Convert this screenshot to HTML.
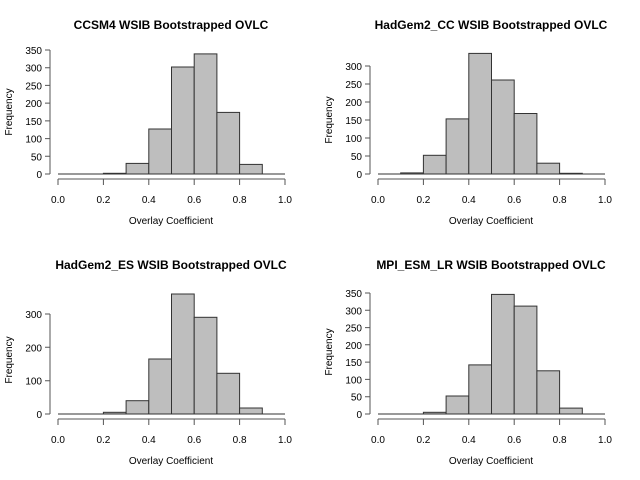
<!DOCTYPE html>
<html><head><style>body{margin:0;background:#fff}svg{display:block}text{font-family:"Liberation Sans",sans-serif;fill:#000}</style></head><body>
<svg width="640" height="480" viewBox="0 0 640 480">
<g id="p1">
<text x="171" y="29" font-size="12" font-weight="bold" text-anchor="middle">CCSM4 WSIB Bootstrapped OVLC</text>
<g fill="#bebebe" stroke="#333" stroke-width="1">
<line x1="58" y1="174" x2="103.4" y2="174"/><line x1="262.3" y1="174" x2="285" y2="174"/>
<rect x="103.4" y="173.3" width="22.7" height="0.7"/>
<rect x="126.1" y="163.4" width="22.7" height="10.6"/>
<rect x="148.8" y="129" width="22.7" height="45"/>
<rect x="171.5" y="67" width="22.7" height="107"/>
<rect x="194.2" y="53.9" width="22.7" height="120.1"/>
<rect x="216.9" y="112.4" width="22.7" height="61.6"/>
<rect x="239.6" y="164.4" width="22.7" height="9.6"/>
</g>
<g stroke="#555" fill="none"><path d="M50 50V174M50 50h-5M50 67.7h-5M50 85.4h-5M50 103.1h-5M50 120.9h-5M50 138.6h-5M50 156.3h-5M50 174h-5"/></g>
<g font-size="10" text-anchor="end"><text x="42" y="54">350</text><text x="42" y="71.7">300</text><text x="42" y="89.4">250</text><text x="42" y="107.1">200</text><text x="42" y="124.9">150</text><text x="42" y="142.6">100</text><text x="42" y="160.3">50</text><text x="42" y="178">0</text></g>
<text transform="translate(12,112) rotate(-90)" font-size="10" text-anchor="middle">Frequency</text>
</g>
<g id="p2" transform="translate(320,0)">
<text x="171" y="29" font-size="12" font-weight="bold" text-anchor="middle">HadGem2_CC WSIB Bootstrapped OVLC</text>
<g fill="#bebebe" stroke="#333">
<line x1="58" y1="174" x2="80.7" y2="174"/><line x1="262.3" y1="174" x2="285" y2="174"/>
<rect x="80.7" y="172.9" width="22.7" height="1.1"/>
<rect x="103.4" y="155.3" width="22.7" height="18.7"/>
<rect x="126.1" y="118.9" width="22.7" height="55.1"/>
<rect x="148.8" y="53.4" width="22.7" height="120.6"/>
<rect x="171.5" y="80" width="22.7" height="94"/>
<rect x="194.2" y="113.5" width="22.7" height="60.5"/>
<rect x="216.9" y="163.2" width="22.7" height="10.8"/>
<rect x="239.6" y="173.3" width="22.7" height="0.7"/>
</g>
<g stroke="#555" fill="none"><path d="M50 66V174M50 66h-5M50 84h-5M50 102h-5M50 120h-5M50 138h-5M50 156h-5M50 174h-5"/></g>
<g font-size="10" text-anchor="end"><text x="42" y="70">300</text><text x="42" y="88">250</text><text x="42" y="106">200</text><text x="42" y="124">150</text><text x="42" y="142">100</text><text x="42" y="160">50</text><text x="42" y="178">0</text></g>
<text transform="translate(12,120) rotate(-90)" font-size="10" text-anchor="middle">Frequency</text>
</g>
<g id="p3" transform="translate(0,240)">
<text x="171" y="29" font-size="12" font-weight="bold" text-anchor="middle">HadGem2_ES WSIB Bootstrapped OVLC</text>
<g fill="#bebebe" stroke="#333">
<line x1="58" y1="174" x2="103.4" y2="174"/><line x1="262.3" y1="174" x2="285" y2="174"/>
<rect x="103.4" y="172.3" width="22.7" height="1.7"/>
<rect x="126.1" y="160.7" width="22.7" height="13.3"/>
<rect x="148.8" y="119" width="22.7" height="55"/>
<rect x="171.5" y="54" width="22.7" height="120"/>
<rect x="194.2" y="77.3" width="22.7" height="96.7"/>
<rect x="216.9" y="133.3" width="22.7" height="40.7"/>
<rect x="239.6" y="168" width="22.7" height="6"/>
</g>
<g stroke="#555" fill="none"><path d="M50 74V174M50 74h-5M50 107.3h-5M50 140.7h-5M50 174h-5"/></g>
<g font-size="10" text-anchor="end"><text x="42" y="78">300</text><text x="42" y="111.3">200</text><text x="42" y="144.7">100</text><text x="42" y="178">0</text></g>
<text transform="translate(12,120) rotate(-90)" font-size="10" text-anchor="middle">Frequency</text>
</g>
<g id="p4" transform="translate(320,240)">
<text x="171" y="29" font-size="12" font-weight="bold" text-anchor="middle">MPI_ESM_LR WSIB Bootstrapped OVLC</text>
<g fill="#bebebe" stroke="#333">
<line x1="58" y1="174" x2="103.4" y2="174"/><line x1="262.3" y1="174" x2="285" y2="174"/>
<rect x="103.4" y="172.3" width="22.7" height="1.7"/>
<rect x="126.1" y="156" width="22.7" height="18"/>
<rect x="148.8" y="124.9" width="22.7" height="49.1"/>
<rect x="171.5" y="54.4" width="22.7" height="119.6"/>
<rect x="194.2" y="66.1" width="22.7" height="107.9"/>
<rect x="216.9" y="130.8" width="22.7" height="43.2"/>
<rect x="239.6" y="168.1" width="22.7" height="5.9"/>
</g>
<g stroke="#555" fill="none"><path d="M50 53V174M50 53h-5M50 70.3h-5M50 87.6h-5M50 104.8h-5M50 122.1h-5M50 139.4h-5M50 156.7h-5M50 174h-5"/></g>
<g font-size="10" text-anchor="end"><text x="42" y="57">350</text><text x="42" y="74.3">300</text><text x="42" y="91.6">250</text><text x="42" y="108.8">200</text><text x="42" y="126.1">150</text><text x="42" y="143.4">100</text><text x="42" y="160.7">50</text><text x="42" y="178">0</text></g>
<text transform="translate(12,112) rotate(-90)" font-size="10" text-anchor="middle">Frequency</text>
</g>
<g id="xa">
<g stroke="#555" fill="none"><path d="M58 179H285M58 179v6M103.4 179v6M148.8 179v6M194.2 179v6M239.6 179v6M285 179v6"/>
<path d="M378 179H605M378 179v6M423.4 179v6M468.8 179v6M514.2 179v6M559.6 179v6M605 179v6"/>
<path d="M58 419H285M58 419v6M103.4 419v6M148.8 419v6M194.2 419v6M239.6 419v6M285 419v6"/>
<path d="M378 419H605M378 419v6M423.4 419v6M468.8 419v6M514.2 419v6M559.6 419v6M605 419v6"/></g>
<g font-size="10" text-anchor="middle">
<text x="58" y="203">0.0</text><text x="103.4" y="203">0.2</text><text x="148.8" y="203">0.4</text><text x="194.2" y="203">0.6</text><text x="239.6" y="203">0.8</text><text x="285" y="203">1.0</text>
<text x="378" y="203">0.0</text><text x="423.4" y="203">0.2</text><text x="468.8" y="203">0.4</text><text x="514.2" y="203">0.6</text><text x="559.6" y="203">0.8</text><text x="605" y="203">1.0</text>
<text x="58" y="443">0.0</text><text x="103.4" y="443">0.2</text><text x="148.8" y="443">0.4</text><text x="194.2" y="443">0.6</text><text x="239.6" y="443">0.8</text><text x="285" y="443">1.0</text>
<text x="378" y="443">0.0</text><text x="423.4" y="443">0.2</text><text x="468.8" y="443">0.4</text><text x="514.2" y="443">0.6</text><text x="559.6" y="443">0.8</text><text x="605" y="443">1.0</text>
<text x="171" y="224">Overlay Coefficient</text><text x="491" y="224">Overlay Coefficient</text>
<text x="171" y="464">Overlay Coefficient</text><text x="491" y="464">Overlay Coefficient</text>
</g>
</g>
</svg>
</body></html>
